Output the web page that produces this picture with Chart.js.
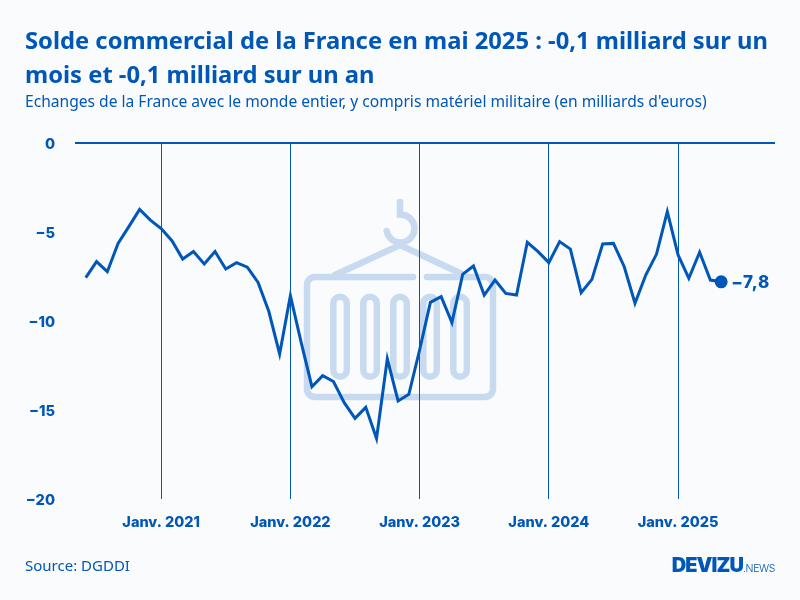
<!DOCTYPE html>
<html lang="fr">
<head>
<meta charset="utf-8">
<title>Solde commercial de la France</title>
<script src="https://cdn.jsdelivr.net/npm/chart.js@4"></script>
<style>
  html, body { margin: 0; padding: 0; background: #f9fbfd; }
  #page { position: relative; width: 800px; height: 600px; overflow: hidden; font-family: "Noto Sans", sans-serif; color: #0057b8; }
  #page canvas, #icon { position: absolute; left: 0; top: 0; }
  .txt { position: absolute; white-space: nowrap; }
  #title { left: 25px; top: 23px; font-size: 23.75px; line-height: 34px; font-weight: 700; }
  #subtitle { left: 25px; top: 91px; font-size: 15.6px; line-height: 20px; }
  #source { left: 25px; top: 556px; font-size: 15px; line-height: 18px; }
  #logo { right: 25px; top: 553px; font-family: Inter, sans-serif; font-size: 20px; line-height: 24px; font-weight: 900; letter-spacing: -0.9px; }
  #logo span { font-size: 10.5px; font-weight: 300; letter-spacing: -0.4px; }
</style>
</head>
<body>
<div id="page">
  <svg id="icon" width="800" height="600" fill="none" stroke="#c8daf0" stroke-width="6.5" stroke-linecap="round">
    <path d="M413 277H315a8 8 0 0 0-8 8V389a8 8 0 0 0 8 8H485a8 8 0 0 0 8-8V285a8 8 0 0 0-8-8H427"/>
    <rect x="333.3" y="296.7" width="13.5" height="80" rx="6.75"/>
    <rect x="363.3" y="296.7" width="13.5" height="80" rx="6.75"/>
    <rect x="393.3" y="296.7" width="13.5" height="80" rx="6.75"/>
    <rect x="423.3" y="296.7" width="13.5" height="80" rx="6.75"/>
    <rect x="453.3" y="296.7" width="13.5" height="80" rx="6.75"/>
    <path d="M335 275L400 245L462 274"/>
    <path d="M400 202V214.5A14 14 0 1 1 386.7 231"/>
  </svg>
  <canvas id="chart" width="800" height="600"></canvas>
  <div class="txt" id="title">Solde commercial de la France en mai 2025 : -0,1 milliard sur un<br>mois et -0,1 milliard sur un an</div>
  <div class="txt" id="subtitle">Echanges de la France avec le monde entier, y compris matériel militaire (en milliards d'euros)</div>
  <div class="txt" id="source">Source: DGDDI</div>
  <div class="txt" id="logo">DEVIZU<span>.NEWS</span></div>
</div>
<script>
const BLUE = '#0057b8';

// Monthly balance, June 2020 to May 2025
const months = [
  'juin 2020', 'juil. 2020', 'août 2020', 'sept. 2020', 'oct. 2020', 'nov. 2020', 'déc. 2020',
  'janv. 2021', 'févr. 2021', 'mars 2021', 'avr. 2021', 'mai 2021', 'juin 2021', 'juil. 2021', 'août 2021', 'sept. 2021', 'oct. 2021', 'nov. 2021', 'déc. 2021',
  'janv. 2022', 'févr. 2022', 'mars 2022', 'avr. 2022', 'mai 2022', 'juin 2022', 'juil. 2022', 'août 2022', 'sept. 2022', 'oct. 2022', 'nov. 2022', 'déc. 2022',
  'janv. 2023', 'févr. 2023', 'mars 2023', 'avr. 2023', 'mai 2023', 'juin 2023', 'juil. 2023', 'août 2023', 'sept. 2023', 'oct. 2023', 'nov. 2023', 'déc. 2023',
  'janv. 2024', 'févr. 2024', 'mars 2024', 'avr. 2024', 'mai 2024', 'juin 2024', 'juil. 2024', 'août 2024', 'sept. 2024', 'oct. 2024', 'nov. 2024', 'déc. 2024',
  'janv. 2025', 'févr. 2025', 'mars 2025', 'avr. 2025', 'mai 2025'
];
const balance = [
  -7.56, -6.66, -7.23, -5.64, -4.70, -3.73, -4.33,
  -4.81, -5.49, -6.52, -6.10, -6.80, -6.10, -7.08, -6.72, -6.98, -7.83, -9.47, -11.85,
  -8.58, -11.20, -13.69, -13.07, -13.40, -14.59, -15.47, -14.85, -16.60, -12.13, -14.49, -14.12,
  -11.63, -8.95, -8.63, -10.09, -7.38, -6.91, -8.54, -7.70, -8.45, -8.54, -5.58, -6.10,
  -6.72, -5.54, -5.96, -8.41, -7.66, -5.67, -5.64, -6.95, -9.00, -7.42, -6.24, -3.86,
  -6.29, -7.60, -6.14, -7.70, -7.80
];
const januaryTicks = [7, 19, 31, 43, 55];
const januaryLabels = ['Janv. 2021', 'Janv. 2022', 'Janv. 2023', 'Janv. 2024', 'Janv. 2025'];
const lastLabel = '\u22127,8';

// Value label next to the last point
const lastValuePlugin = {
  id: 'lastValue',
  afterDatasetsDraw(chart) {
    const pts = chart.getDatasetMeta(0).data;
    const p = pts[pts.length - 1];
    const ctx = chart.ctx;
    ctx.save();
    ctx.font = '800 17px Inter, sans-serif';
    ctx.letterSpacing = '0.8px';
    ctx.fillStyle = BLUE;
    ctx.textBaseline = 'middle';
    ctx.fillText(lastLabel, p.x + 10, p.y + 1.5);
    ctx.restore();
  }
};

new Chart(document.getElementById('chart').getContext('2d'), {
  type: 'line',
  data: {
    datasets: [{
      data: balance.map((v, i) => ({ x: i, y: v })),
      borderColor: BLUE,
      backgroundColor: BLUE,
      borderWidth: 3,
      tension: 0,
      clip: false,
      pointRadius: ctx => (ctx.dataIndex === balance.length - 1 ? 5 : 0),
      pointHoverRadius: 0
    }]
  },
  options: {
    responsive: false,
    animation: false,
    layout: { padding: { top: 143, right: 25, bottom: 0, left: 0 } },
    plugins: { legend: { display: false }, tooltip: { enabled: false } },
    scales: {
      x: {
        type: 'linear',
        min: -1,
        max: 64,
        afterBuildTicks: axis => { axis.ticks = januaryTicks.map(v => ({ value: v })); },
        afterFit: axis => { axis.height = 101; },
        border: { display: false },
        grid: { color: BLUE, lineWidth: 1, drawTicks: false },
        ticks: {
          autoSkip: false,
          maxRotation: 0,
          padding: 15,
          color: BLUE,
          font: { family: 'Inter', size: 14.5, weight: '800' },
          callback: v => januaryLabels[januaryTicks.indexOf(v)]
        }
      },
      y: {
        min: -20,
        max: 0,
        afterFit: axis => { axis.width = 75; },
        border: { display: false },
        grid: {
          drawTicks: false,
          color: ctx => (ctx.tick.value === 0 ? BLUE : 'transparent'),
          lineWidth: 2
        },
        ticks: {
          stepSize: 5,
          padding: 20,
          labelOffset: 1.5,
          color: BLUE,
          font: { family: 'Inter', size: 14.6, weight: '800' },
          callback: v => (v < 0 ? '\u2212' + Math.abs(v) : String(v))
        }
      }
    }
  },
  plugins: [lastValuePlugin]
});
</script>
</body>
</html>
